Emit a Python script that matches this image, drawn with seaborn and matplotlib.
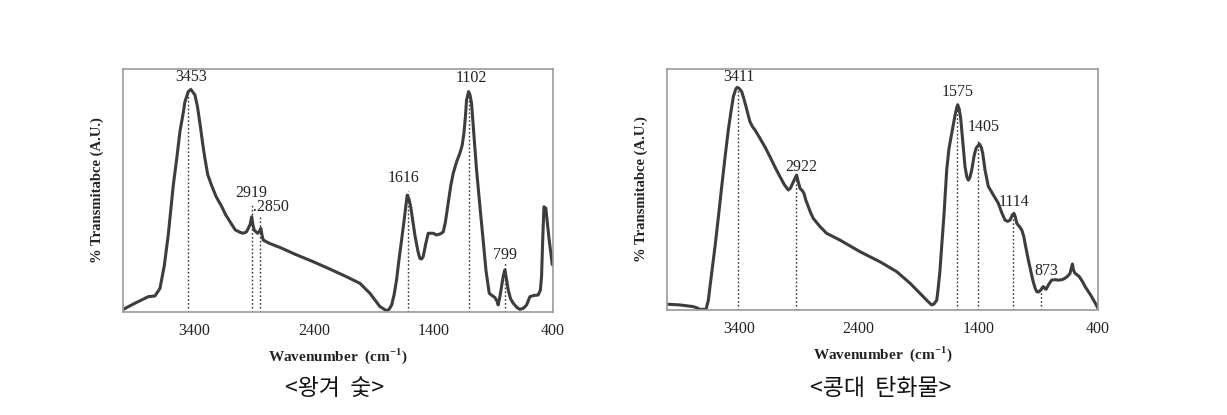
import matplotlib
matplotlib.use("Agg")
import matplotlib.pyplot as plt
import seaborn as sns
import pandas as pd

# ---------------- data ----------------
# Left panel: 왕겨 숯  (wavenumber, relative transmittance %)
left_wn = [3997, 3900, 3788, 3732, 3690, 3654, 3620, 3579, 3550, 3523, 3495, 3481,
           3453, 3431, 3397, 3376, 3355, 3330, 3314, 3290, 3257, 3220, 3174, 3140,
           3104, 3060, 3020, 2993, 2965, 2951, 2935, 2922, 2912, 2901, 2873, 2860,
           2845, 2835, 2825, 2780, 2720, 2686, 2560, 2407, 2260, 2127, 2016, 1932,
           1848, 1792, 1770, 1750, 1730, 1709, 1690, 1667, 1645, 1620, 1605, 1591,
           1573, 1555, 1530, 1514, 1500, 1486, 1465, 1444, 1402, 1374, 1340, 1318,
           1300, 1277, 1255, 1235, 1205, 1179, 1160, 1145, 1133, 1123, 1106, 1095,
           1081, 1060, 1039, 1010, 984, 960, 933, 910, 886, 868, 858, 845, 830, 815,
           802, 790, 774, 755, 732, 700, 676, 645, 620, 605, 592, 560, 523, 505, 495,
           485, 475, 459, 445, 431, 405]
left_val = [1.1, 3.6, 6.3, 6.6, 9.7, 19.0, 32.0, 52.0, 63.0, 74.2, 82.0, 86.5,
            90.7, 91.6, 89.3, 84.5, 77.5, 68.5, 63.3, 56.5, 52.0, 47.5, 43.5, 40.0,
            37.2, 33.8, 32.8, 32.4, 33.0, 34.4, 36.0, 39.2, 36.0, 33.7, 32.4, 33.0,
            34.4, 31.5, 29.6, 28.4, 27.2, 26.6, 23.8, 20.7, 17.5, 14.5, 11.8, 7.7,
            2.2, 0.5, 1.2, 2.9, 7.0, 13.2, 21.0, 29.6, 38.0, 48.1, 46.5, 43.5,
            37.5, 31.5, 25.0, 22.1, 21.8, 22.8, 28.0, 32.4, 32.4, 31.7, 32.2, 33.0,
            37.0, 44.7, 52.0, 57.0, 62.0, 65.3, 68.5, 73.5, 80.0, 87.2, 90.7, 89.5,
            85.9, 72.0, 58.4, 43.0, 29.6, 17.0, 7.7, 6.8, 6.0, 4.5, 2.9, 6.0, 10.4, 15.0,
            17.3, 14.0, 9.1, 5.5, 3.6, 1.8, 1.1, 1.6, 2.9, 4.8, 6.3, 6.8, 7.0, 9.0, 14.5,
            30.0, 43.3, 42.7, 36.0, 29.6, 19.5]
left_peaks = [3453, 2919, 2850, 1616, 1102, 799]
left_peak_tops = [91, 44, 40, 50, 91, 20]
left_label_x = [3431, 2922, 2761, 1653, 1081, 802]
left_label_y = [96.8, 48.8, 43.3, 55.0, 96.2, 23.5]
left_label_text = ["3453", "2919", ".2850", "1616", "1102", "799"]

# Right panel: 콩대 탄화물
right_wn = [3997, 3891, 3780, 3745, 3730, 3674, 3655, 3641, 3620, 3599, 3570, 3543,
            3515, 3488, 3465, 3446, 3425, 3413, 3395, 3376, 3360, 3340, 3320, 3307,
            3285, 3265, 3223, 3180, 3140, 3100, 3056, 3020, 2987, 2970, 2950, 2930,
            2917, 2903, 2889, 2870, 2856, 2840, 2820, 2800, 2778, 2722, 2666, 2555,
            2388, 2221, 2081, 1970, 1859, 1820, 1789, 1770, 1747, 1735, 1720, 1705,
            1686, 1664, 1645, 1622, 1594, 1580, 1572, 1560, 1547, 1530, 1511, 1495,
            1483, 1470, 1455, 1435, 1419, 1391, 1375, 1363, 1344, 1316, 1295, 1274,
            1233, 1205, 1177, 1155, 1135, 1115, 1102, 1090, 1079, 1055, 1037, 1020,
            1010, 982, 945, 925, 912, 895, 879, 857, 845, 834, 810, 787, 760, 732, 700,
            675, 650, 634, 620, 614, 605, 592, 575, 556, 530, 508, 480, 453, 425, 400]
right_val = [2.4, 2.1, 1.4, 0.8, 0.3, 0.3, 4.0, 9.7, 18.0, 26.3, 39.0, 51.2,
             63.5, 74.7, 82.5, 88.5, 91.8, 92.4, 91.8, 90.6, 88.0, 84.4, 80.5, 78.1,
             76.0, 74.7, 71.2, 67.5, 63.6, 59.5, 55.3, 52.0, 49.8, 50.5, 52.6, 54.8,
             56.0, 53.0, 50.5, 49.5, 48.4, 45.5, 42.9, 40.3, 38.0, 34.6, 31.8, 29.0,
             24.2, 20.0, 15.9, 11.1, 5.5, 3.5, 2.1, 2.5, 4.1, 9.0, 16.6, 27.0,
             40.0, 58.1, 67.0, 73.3, 80.9, 84.0, 85.1, 83.5, 79.5, 70.0, 59.5, 55.0,
             53.9, 55.0, 58.1, 64.0, 67.1, 68.9, 67.5, 65.0, 58.1, 51.2, 49.5, 47.7,
             44.3, 40.5, 37.3, 36.8, 37.3, 39.5, 40.1, 38.5, 36.0, 34.5, 33.2, 30.5,
             27.7, 20.7, 12.4, 9.0, 7.6, 7.5, 8.3, 9.7, 9.0, 8.6, 10.8, 12.4, 12.6, 12.4, 12.6,
             13.2, 14.2, 15.2, 18.0, 19.1, 16.5, 15.2, 14.6, 13.8, 11.8, 9.7, 7.6, 5.5, 3.0, 0.7]
right_peaks = [3411, 2922, 1575, 1405, 1114, 873]
right_peak_tops = [92, 56, 86, 70, 40, 10]
right_label_x = [3399, 2875, 1575, 1358, 1102, 830]
right_label_y = [96.5, 59.2, 90.6, 76.0, 44.9, 16.3]
right_label_text = ["3411", "2922", "1575", "1405", "1114", "873"]

xticks = [3400, 2400, 1400, 400]
captions = ["<왕겨  숯>", "<콩대  탄화물>"]
xlabel = "Wavenumber  (cm$^{\\mathbf{-1}}$)"
ylabel = "% Transmitabce (A.U.)"

# ---------------- style ----------------
sns.set_theme(style="white")
plt.rcParams["font.family"] = ["Liberation Serif", "DejaVu Serif"]
plt.rcParams["mathtext.fontset"] = "custom"
plt.rcParams["mathtext.rm"] = "Liberation Serif"
plt.rcParams["mathtext.bf"] = "Liberation Serif:bold"

LINE = "#3d3d3d"
FRAME = "#9a9a9a"

fig = plt.figure(figsize=(12.27, 4.15), dpi=100)
ax_l = fig.add_axes([0.1002, 0.2482, 0.3504, 0.5855])
ax_r = fig.add_axes([0.5436, 0.2530, 0.3513, 0.5807])

panels = [
    (ax_l, left_wn, left_val, left_peaks, left_peak_tops, left_label_x, left_label_y, left_label_text),
    (ax_r, right_wn, right_val, right_peaks, right_peak_tops, right_label_x, right_label_y, right_label_text),
]

for ax, wn, val, peaks, tops, lx, ly, lt in panels:
    df = pd.DataFrame({"wn": wn, "val": val})
    sns.lineplot(data=df, x="wn", y="val", ax=ax, sort=False, estimator=None,
                 color=LINE, linewidth=2.2)
    for line in ax.lines:
        line.set_solid_joinstyle("round")
    for p, t in zip(peaks, tops):
        ax.plot([p, p], [0, t], color="#333333", linewidth=1.0,
                linestyle=(0, (1.2, 1.6)), zorder=1)
    for x, y, s in zip(lx, ly, lt):
        ax.text(x, y, s, ha="center", va="center", fontsize=11.5, color="#222222")
    ax.set_xlim(4000, 400)
    ax.set_ylim(0, 100)
    ax.set_xticks(xticks)
    ax.set_xticklabels([str(t) for t in xticks], fontsize=11.5, color="#222222")
    ax.set_yticks([])
    ax.tick_params(axis="x", length=0, pad=8)
    ax.set_xlabel(xlabel, fontsize=11, fontweight="bold", labelpad=5, color="#222222")
    ax.set_ylabel(ylabel, fontsize=10.5, fontweight="bold", labelpad=14, color="#222222")
    for sp in ax.spines.values():
        sp.set_color(FRAME)
        sp.set_linewidth(1.2)

fig.text(335 / 1227, 1 - 388 / 415, captions[0], ha="center", va="center",
         fontsize=16.5, family=["Noto Sans CJK KR", "DejaVu Sans"], color="#111111")
fig.text(881 / 1227, 1 - 388 / 415, captions[1], ha="center", va="center",
         fontsize=16.5, family=["Noto Sans CJK KR", "DejaVu Sans"], color="#111111")

fig.savefig("out.png", dpi=100, facecolor="white")
